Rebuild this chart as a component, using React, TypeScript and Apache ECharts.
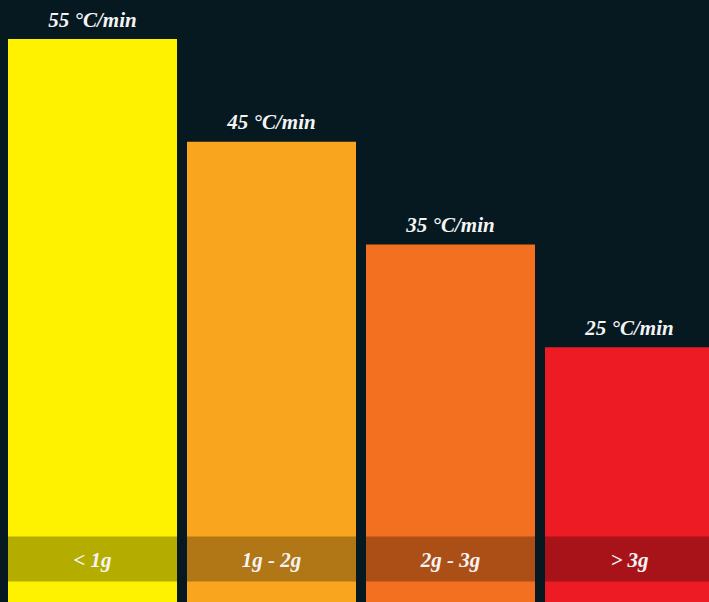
import React, { useEffect, useRef } from "react";
import * as echarts from "echarts";

const categories = ["< 1g", "1g - 2g", "2g - 3g", "> 3g"];
const rates = [55, 45, 35, 25];
const barColors = ["#FFF200", "#F9A61E", "#F37021", "#ED1C24"];
const unit = "°C/min";

const FONT = "'Liberation Serif', 'Times New Roman', serif";

export default function App() {
  const ref = useRef<HTMLDivElement>(null);
  useEffect(() => {
    if (!ref.current) return;
    const chart = echarts.init(ref.current, undefined, { renderer: "svg" });
    chart.setOption({
      animation: false,
      backgroundColor: "transparent",
      grid: { left: 3, width: 716, top: 0, bottom: 6 },
      xAxis: { type: "category", data: categories, show: false },
      yAxis: { type: "value", min: 0, max: 58.8, show: false },
      series: [
        {
          type: "bar",
          barWidth: 169,
          data: rates.map((v, i) => ({ value: v, itemStyle: { color: barColors[i] } })),
          label: {
            show: true,
            position: "top",
            distance: 9,
            formatter: (p: any) => `${p.value} ${unit}`,
            color: "#F4F4F4",
            fontFamily: FONT,
            fontStyle: "italic",
            fontWeight: "bold",
            fontSize: 21,
          },
        },
        {
          type: "custom",
          z: 10,
          encode: { x: 0, y: 1 },
          data: categories.map((_, i) => [i, 0]),
          renderItem: (params: any, api: any) => {
            const base = api.coord([api.value(0), 0]);
            const w = 169;
            const top = base[1] - 67.5;
            return {
              type: "group",
              children: [
                {
                  type: "rect",
                  shape: { x: base[0] - w / 2, y: top, width: w, height: 45 },
                  style: { fill: "rgba(0,0,0,0.29)" },
                },
                {
                  type: "text",
                  x: base[0],
                  y: top + 23,
                  style: {
                    text: categories[params.dataIndex],
                    fill: "#F4F4F4",
                    font: "italic bold 21px " + FONT,
                    align: "center",
                    verticalAlign: "middle",
                  },
                },
              ],
            };
          },
        },
      ],
    });
    return () => chart.dispose();
  }, []);
  return (
    <div
      style={{
        position: "fixed",
        left: 0,
        top: 0,
        width: 709,
        height: 602,
        overflow: "hidden",
        background: "#061921",
      }}
    >
      <div ref={ref} style={{ width: 720, height: 610 }} />
    </div>
  );
}
